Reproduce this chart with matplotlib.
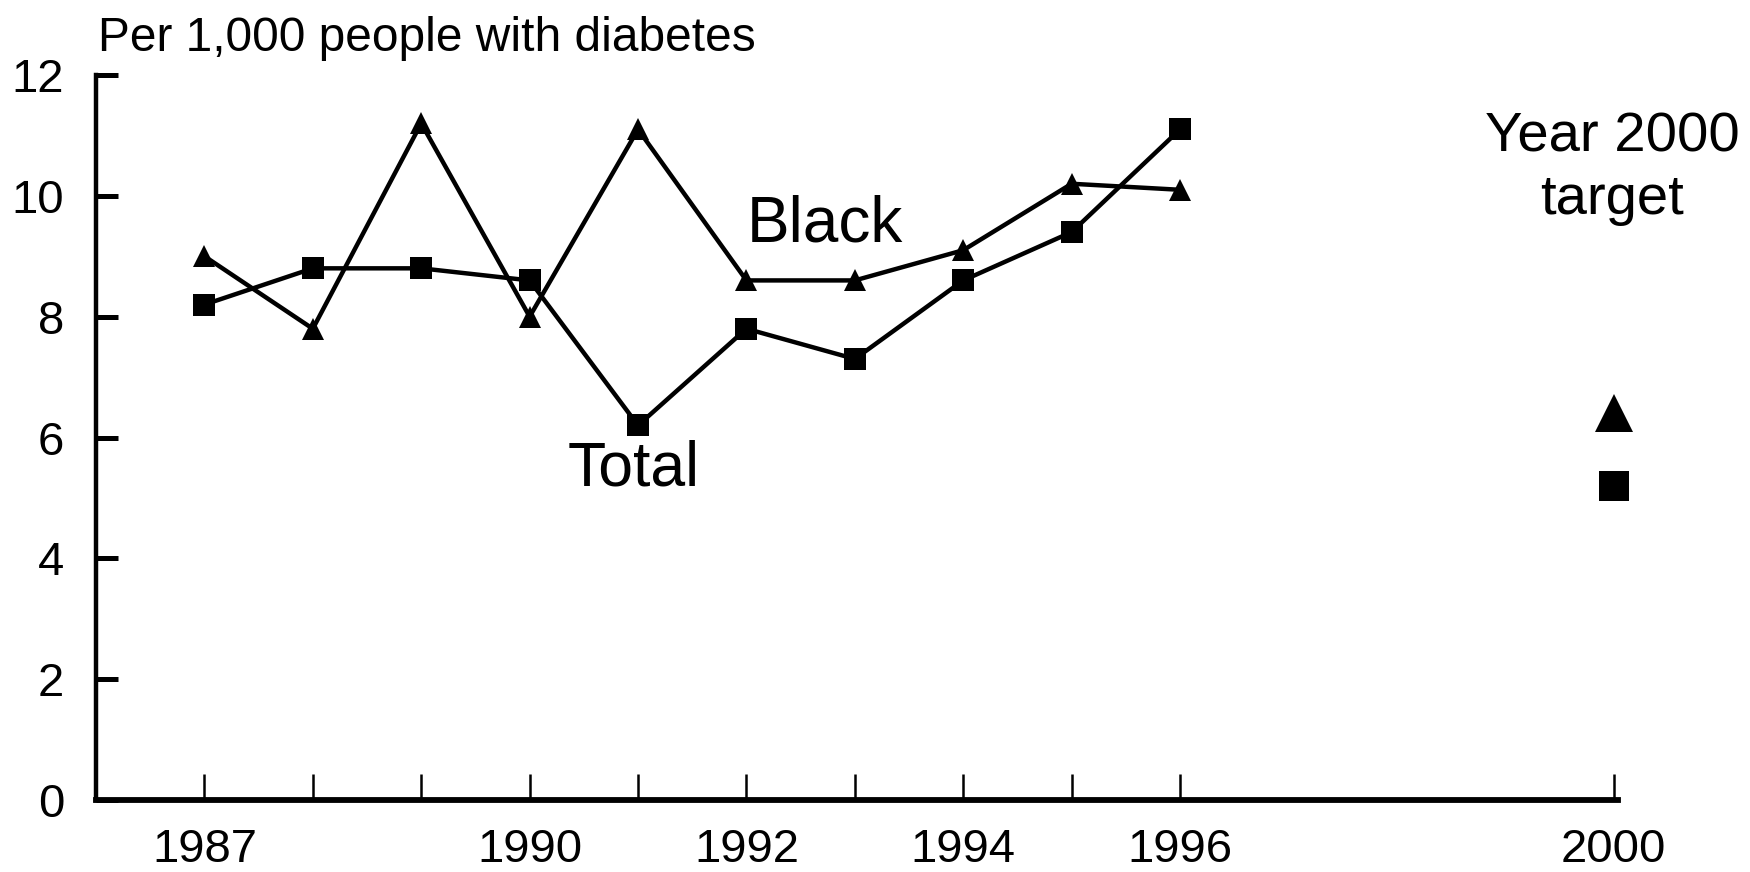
import numpy as np
import matplotlib
matplotlib.use('Agg')
import matplotlib.pyplot as plt

plt.rcParams['font.family'] = ['Liberation Sans', 'DejaVu Sans']

years = [1987, 1988, 1989, 1990, 1991, 1992, 1993, 1994, 1995, 1996]
black = [9.0, 7.8, 11.2, 8.0, 11.1, 8.6, 8.6, 9.1, 10.2, 10.1]
total = [8.2, 8.8, 8.8, 8.6, 6.2, 7.8, 7.3, 8.6, 9.4, 11.1]
target_year = 2000
target_black = 6.4
target_total = 5.2

xticks = years + [2000]
xlabels = ['1987', '', '', '1990', '', '1992', '', '1994', '', '1996', '2000']
yticks = [0, 2, 4, 6, 8, 10, 12]

fig = plt.figure(figsize=(17.5, 8.72), dpi=100)
ax = fig.add_axes([96/1750, 72/872, 1522/1750, 725/872])

ax.plot(years, black, '-^', color='black', lw=3.2, ms=16, mew=0, clip_on=False)
ax.plot(years, total, '-s', color='black', lw=3.2, ms=16, mew=0, clip_on=False)
ax.plot([target_year], [target_black], '^', color='black', ms=28, mew=0, clip_on=False)
ax.plot([target_year], [target_total], 's', color='black', ms=22, mew=0, clip_on=False)

ax.set_xlim(1986, 2000.04)
ax.set_ylim(0, 12)
ax.spines['top'].set_visible(False)
ax.spines['right'].set_visible(False)
ax.spines['left'].set_linewidth(3.2)
ax.spines['bottom'].set_linewidth(4.2)

ax.set_xticks(xticks)
ax.set_xticklabels(xlabels, fontsize=34)
ax.set_yticks(yticks)
ax.set_yticklabels([str(v) for v in yticks], fontsize=34)
ax.tick_params(axis='x', direction='in', length=19, width=1.8, pad=20)
ax.tick_params(axis='y', direction='in', length=16, width=3.6, pad=23)

fig.text(98/1750, 1 - 51/872, 'Per 1,000 people with diabetes', fontsize=34.5, ha='left', va='baseline')
ax.text(1992.0, 9.25, 'Black', fontsize=46, ha='left', va='baseline')
ax.text(1990.35, 5.2, 'Total', fontsize=45, ha='left', va='baseline')
fig.text(1612/1750, 1 - 214/872, 'Year 2000\ntarget', fontsize=40.5, ha='center', va='baseline',
         linespacing=1.25)

fig.savefig('out.png', dpi=100)
